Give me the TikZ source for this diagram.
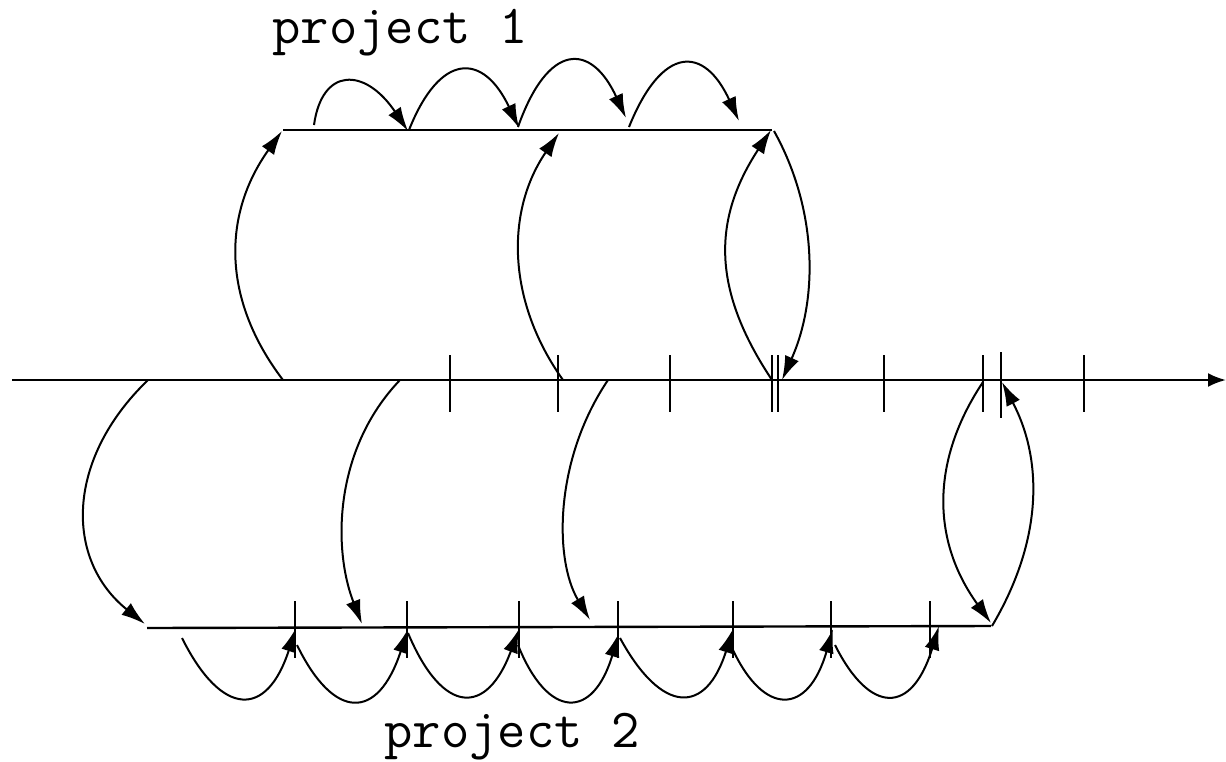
\documentclass[tikz,border=0pt]{standalone}
\usepackage{fontspec}
\usetikzlibrary{arrows.meta}
\tikzset{
  axisline/.style={line width=2.4pt},
  tickmark/.style={line width=2.2pt},
  flow/.style={line width=2pt,-{Latex[length=24pt,width=15pt]}},
  lbl/.style={font=\ttfamily\addfontfeatures{FakeBold=1.5}\fontsize{55}{60}\selectfont,inner sep=0pt}
}
\begin{document}
\begin{tikzpicture}[x=1pt,y=-1pt]
\useasboundingbox (0,0) rectangle (1226,761);
% main time line
\coordinate (m0) at (12,380);
\coordinate (m1) at (1226,380);
\draw[axisline,-{Latex[length=18pt,width=14pt]}] (m0) -- (m1);
\foreach \x in {450,558,670,772,778,884,983,1084}
  \draw[tickmark] (\x,355) -- (\x,412);
\draw[tickmark] (1001,352) -- (1001,418);
% project 1 line
\coordinate (p1a) at (283,130);
\coordinate (p1b) at (772,130);
\draw[axisline] (p1a) -- (p1b);
% project 2 line
\coordinate (p2a) at (147,628);
\coordinate (p2b) at (991,626);
\draw[axisline] (p2a) -- (p2b);
\foreach \x in {295,407,519,618,733,831,930}
  \draw[tickmark] (\x,601) -- (\x,658);
% labels
\node[lbl] (t1) at (400,33) {project 1};
\node[lbl] (t2) at (512,737) {project 2};
% main -> project 1
\coordinate (u1s) at (283,380); \coordinate (u1e) at (282,131);
\draw[flow] (u1s) .. controls (222,300) and (222,215) .. (u1e);
\coordinate (u2s) at (563,380); \coordinate (u2e) at (559,133);
\draw[flow] (u2s) .. controls (506,300) and (506,210) .. (u2e);
\coordinate (u3s) at (772,380); \coordinate (u3e) at (771,130);
\draw[flow] (u3s) .. controls (712,290) and (712,220) .. (u3e);
\coordinate (d3s) at (774,131); \coordinate (d3e) at (782,380);
\draw[flow] (d3s) .. controls (818,210) and (818,300) .. (d3e);
% main -> project 2
\coordinate (a1s) at (148,380); \coordinate (a1e) at (145,624);
\draw[flow] (a1s) .. controls (65,460) and (65,560) .. (a1e);
\coordinate (a2s) at (400,380); \coordinate (a2e) at (362,624);
\draw[flow] (a2s) .. controls (333,450) and (333,550) .. (a2e);
\coordinate (a3s) at (608,380); \coordinate (a3e) at (590,620);
\draw[flow] (a3s) .. controls (554,460) and (554,560) .. (a3e);
\coordinate (a4s) at (983,382); \coordinate (a4e) at (991,623);
\draw[flow] (a4s) .. controls (931,460) and (931,540) .. (a4e);
\coordinate (b4s) at (992,626); \coordinate (b4e) at (1002,382);
\draw[flow] (b4s) .. controls (1043,540) and (1043,460) .. (b4e);
% project 1 hops
\coordinate (h1s) at (314,125); \coordinate (h1e) at (408,131);
\draw[flow] (h1s) .. controls (322,67) and (365,67) .. (h1e);
\coordinate (h2s) at (409,130); \coordinate (h2e) at (519,128);
\draw[flow] (h2s) .. controls (440,52) and (483,52) .. (h2e);
\coordinate (h3s) at (518,127); \coordinate (h3e) at (626,118);
\draw[flow] (h3s) .. controls (548,42) and (591,42) .. (h3e);
\coordinate (h4s) at (629,127); \coordinate (h4e) at (739,121);
\draw[flow] (h4s) .. controls (662,45) and (704,45) .. (h4e);
% project 2 hops
\coordinate (g1s) at (182,638); \coordinate (g1e) at (296,628);
\draw[flow] (g1s) .. controls (222,718) and (267,718) .. (g1e);
\coordinate (g2s) at (297,645); \coordinate (g2e) at (408,629);
\draw[flow] (g2s) .. controls (334,721) and (378,721) .. (g2e);
\coordinate (g3s) at (408,633); \coordinate (g3e) at (519,629);
\draw[flow] (g3s) .. controls (443,716) and (487,716) .. (g3e);
\coordinate (g4s) at (518,645); \coordinate (g4e) at (619,633);
\draw[flow] (g4s) .. controls (548,720) and (593,720) .. (g4e);
\coordinate (g5s) at (620,638); \coordinate (g5e) at (733,629);
\draw[flow] (g5s) .. controls (662,715) and (706,715) .. (g5e);
\coordinate (g6s) at (733,650); \coordinate (g6e) at (833,629);
\draw[flow] (g6s) .. controls (764,716) and (808,716) .. (g6e);
\coordinate (g7s) at (835,645); \coordinate (g7e) at (939,626);
\draw[flow] (g7s) .. controls (870,715) and (912,715) .. (g7e);
\end{tikzpicture}
\end{document}
